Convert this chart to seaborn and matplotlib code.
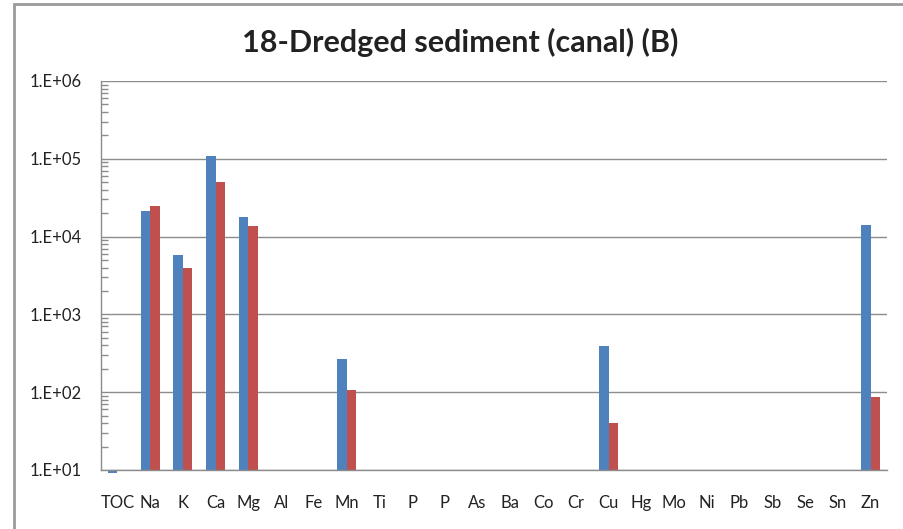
import numpy as np
import pandas as pd
import seaborn as sns
import matplotlib.pyplot as plt
from matplotlib.patches import Rectangle
from matplotlib.ticker import LogLocator, NullFormatter, FixedLocator

# element labels along the x axis (note: "P" appears twice)
elements = ['TOC', 'Na', 'K', 'Ca', 'Mg', 'Al', 'Fe', 'Mn', 'Ti', 'P', 'P', 'As',
            'Ba', 'Co', 'Cr', 'Cu', 'Hg', 'Mo', 'Ni', 'Pb', 'Sb', 'Se', 'Sn', 'Zn']

# values (nan = no bar)
series1 = [9.2, 21300, 5800, 108000, 18000, np.nan, np.nan, 267, np.nan, np.nan, np.nan, np.nan,
           np.nan, np.nan, np.nan, 392, np.nan, np.nan, np.nan, np.nan, np.nan, np.nan, np.nan, 14100]
series2 = [np.nan, 24900, 3920, 49900, 13700, np.nan, np.nan, 107, np.nan, np.nan, np.nan, np.nan,
           np.nan, np.nan, np.nan, 40.6, np.nan, np.nan, np.nan, np.nan, np.nan, np.nan, np.nan, 86]

ytick_vals = [1e1, 1e2, 1e3, 1e4, 1e5, 1e6]
ytick_labels = ['1.E+01', '1.E+02', '1.E+03', '1.E+04', '1.E+05', '1.E+06']

colors = ['#4F81BD', '#C0504D']

df = pd.DataFrame({
    'pos': list(range(len(elements))) * 2,
    'value': series1 + series2,
    'series': ['Series1'] * len(elements) + ['Series2'] * len(elements),
}).dropna()

sns.set_style('white')
plt.rcParams['font.family'] = ['Lato', 'DejaVu Sans']

fig = plt.figure(figsize=(9.04, 5.29), dpi=100)
ax = fig.add_axes([101 / 904, 1 - 470 / 529, 786 / 904, 389 / 529])

sns.barplot(data=df, x='pos', y='value', hue='series', order=list(range(len(elements))),
            hue_order=['Series1', 'Series2'], palette=colors, width=0.58,
            saturation=1, legend=False, ax=ax, errorbar=None)

# Excel style: bars grow from the axis minimum (10), even downward
base = ytick_vals[0]
for bar in ax.patches:
    h = bar.get_height()
    bar.set_y(base)
    bar.set_height(h - base)
    bar.set_clip_on(False)
    bar.set_edgecolor('none')

ax.set_yscale('log')
ax.set_ylim(ytick_vals[0], ytick_vals[-1])
ax.set_xlim(-0.5, len(elements) - 0.5)
ax.yaxis.set_major_locator(FixedLocator(ytick_vals))
ax.set_yticklabels(ytick_labels)
ax.yaxis.set_minor_locator(LogLocator(base=10, subs=np.arange(2, 10)))
ax.yaxis.set_minor_formatter(NullFormatter())
ax.set_xticks(range(len(elements)))
ax.set_xticklabels(elements)
ax.set_xlabel('')
ax.set_ylabel('')

ax.grid(True, axis='y', which='major', color='#8c8c8c', linewidth=1)
ax.set_axisbelow(True)
for s in ['top', 'right']:
    ax.spines[s].set_visible(False)
for s in ['left', 'bottom']:
    ax.spines[s].set_color('#8c8c8c')
    ax.spines[s].set_linewidth(1)

ax.tick_params(axis='y', which='major', direction='in', length=0, pad=14,
               labelsize=12, labelcolor='#222222')
ax.tick_params(axis='y', which='minor', direction='in', length=5, width=1,
               color='#8c8c8c', left=True)
ax.tick_params(axis='x', length=0, pad=18, labelsize=12, labelcolor='#222222')

fig.text(460 / 904, 1 - 42 / 529, '18-Dredged sediment (canal) (B)', ha='center',
         va='center', fontsize=22, fontweight='bold', color='#222222')

# outer chart border (top-left part visible)
fig.patches.append(Rectangle((14 / 904, -0.1), 1.2, 1 - 4 / 529 + 0.1,
                             transform=fig.transFigure, fill=False,
                             edgecolor='#9a9a9a', linewidth=2))

fig.savefig('out.png', dpi=100)
